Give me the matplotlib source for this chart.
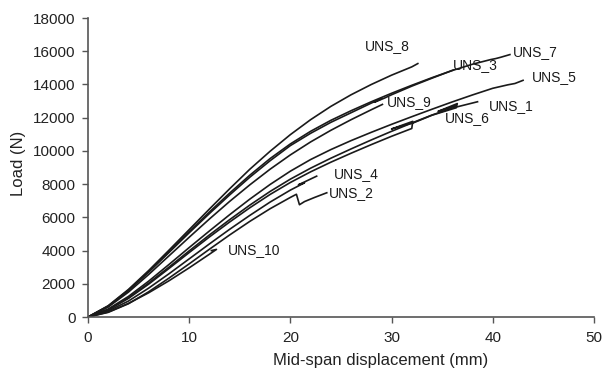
import matplotlib.pyplot as plt

plt.rcParams["font.family"] = ["Liberation Sans", "DejaVu Sans"]

# load-displacement curves (mm, N)
uns8_x = [0, 2, 4, 6, 8, 10, 12, 14, 16, 18, 20, 22, 24, 26, 28, 30, 32, 32.6]
uns8_y = [0, 680, 1660, 2800, 4020, 5260, 6500, 7720, 8900, 9980, 10980, 11880, 12680, 13380, 14000, 14560, 15060, 15260]

uns7_x = [0, 2, 4, 6, 8, 10, 12, 14, 16, 18, 20, 22, 24, 26, 28, 30, 32, 34, 36, 38, 39.8, 40.3, 40.8, 41.7]
uns7_y = [0, 660, 1620, 2740, 3940, 5140, 6320, 7460, 8540, 9540, 10420, 11180, 11840, 12420, 12960, 13470, 13950, 14410, 14840, 15220, 15500, 15560, 15640, 15800]

uns3_x = [0, 2, 4, 6, 8, 10, 12, 14, 16, 18, 20, 22, 24, 26, 28, 29.0, 28.3, 29.3, 30, 32, 34, 36.1]
uns3_y = [0, 640, 1590, 2700, 3880, 5070, 6230, 7350, 8420, 9410, 10320, 11060, 11720, 12300, 12880, 13150, 12930, 13180, 13380, 13900, 14380, 14870]

uns9_x = [0, 2, 4, 6, 8, 10, 12, 14, 16, 18, 20, 22, 24, 26, 28, 29.1]
uns9_y = [0, 600, 1500, 2560, 3680, 4800, 5900, 6960, 7960, 8900, 9760, 10540, 11240, 11880, 12480, 12800]

uns5_x = [0, 2, 4, 6, 8, 10, 12, 14, 16, 18, 20, 22, 24, 26, 28, 30, 32, 34, 36, 38, 40, 41.5, 42.2, 43]
uns5_y = [0, 480, 1240, 2160, 3160, 4180, 5180, 6160, 7100, 7980, 8780, 9480, 10080, 10620, 11120, 11600, 12060, 12510, 12950, 13370, 13770, 13980, 14060, 14250]

uns1_x = [0, 2, 4, 6, 8, 10, 12, 14, 16, 18, 20, 22, 24, 26, 28, 30, 32, 34, 36, 38.5]
uns1_y = [0, 440, 1160, 2040, 3000, 3980, 4940, 5860, 6740, 7560, 8300, 8960, 9560, 10120, 10660, 11180, 11680, 12160, 12580, 12960]

uns6_x = [0, 2, 4, 6, 8, 10, 12, 14, 16, 18, 20, 22, 24, 26, 28, 30, 32, 32.1, 30.0, 32.2, 34, 36.4, 36.5, 34.6, 36.3]
uns6_y = [0, 420, 1120, 1980, 2920, 3880, 4820, 5720, 6580, 7380, 8100, 8740, 9320, 9860, 10380, 10880, 11350, 11780, 11320, 11700, 12150, 12600, 12850, 12380, 12700]

uns4_x = [0, 2, 4, 6, 8, 10, 12, 14, 16, 18, 20, 21.4, 20.8, 22.6]
uns4_y = [0, 360, 960, 1740, 2600, 3500, 4400, 5280, 6120, 6920, 7640, 8080, 7960, 8480]

uns2_x = [0, 2, 4, 6, 8, 10, 12, 14, 16, 18, 20, 20.6, 20.9, 21.4, 22.4, 23.6]
uns2_y = [0, 280, 800, 1520, 2340, 3200, 4080, 4940, 5760, 6520, 7200, 7390, 6760, 6950, 7200, 7480]

uns10_x = [0, 2, 4, 6, 8, 10, 12, 12.7, 12.2]
uns10_y = [0, 300, 820, 1460, 2180, 2960, 3780, 4070, 4000]

names = ["UNS_8", "UNS_7", "UNS_3", "UNS_9", "UNS_5", "UNS_1", "UNS_6", "UNS_4", "UNS_2", "UNS_10"]
curves = [(uns8_x, uns8_y), (uns7_x, uns7_y), (uns3_x, uns3_y), (uns9_x, uns9_y),
          (uns5_x, uns5_y), (uns1_x, uns1_y), (uns6_x, uns6_y), (uns4_x, uns4_y),
          (uns2_x, uns2_y), (uns10_x, uns10_y)]
label_x = [27.4, 42.0, 36.1, 29.5, 43.9, 39.6, 35.3, 24.3, 23.8, 13.8]
label_y = [16310, 15950, 15170, 12940, 14450, 12700, 11980, 8610, 7460, 4030]

fig = plt.figure(figsize=(6.06, 3.76), dpi=100)
ax = fig.add_axes([0.1452, 0.1569, 0.8348, 0.7951])

for (x, y) in curves:
    ax.plot(x, y, color="#1a1a1a", lw=1.2, solid_joinstyle="round")

for name, lx, ly in zip(names, label_x, label_y):
    ax.text(lx, ly, name, fontsize=10, ha="left", va="center", color="#1a1a1a")

ax.set_xlim(0, 50)
ax.set_ylim(0, 18000)
ax.set_xticks(range(0, 51, 10))
ax.set_yticks(range(0, 18001, 2000))
ax.tick_params(direction="out", length=4, width=1, labelsize=11, colors="#555555",
               labelcolor="#222222")
ax.tick_params(axis="y", pad=5)
ax.tick_params(axis="x", pad=6)
ax.spines[["top", "right"]].set_visible(False)
for s in ["left", "bottom"]:
    ax.spines[s].set_color("#555555")
    ax.spines[s].set_linewidth(1.2)

fig.text(381 / 606, 1 - 360 / 376, "Mid-span displacement (mm)", fontsize=12,
         ha="center", va="center", color="#222222")
fig.text(18 / 606, 1 - 163 / 376, "Load (N)", fontsize=12, rotation=90,
         ha="center", va="center", color="#222222")

fig.savefig("out.png", dpi=100)
